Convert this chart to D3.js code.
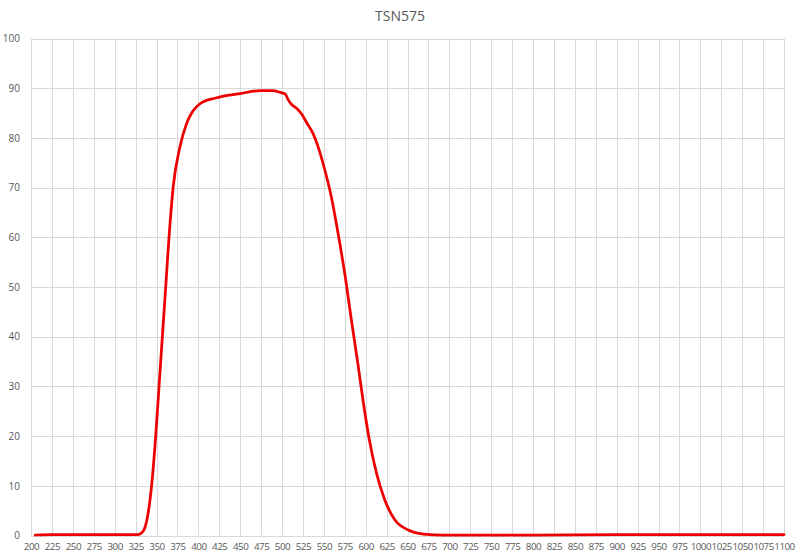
<!DOCTYPE html>
<html>
<head>
<meta charset="utf-8">
<script src="https://cdn.jsdelivr.net/npm/d3@7"></script>
<style>
  body { margin: 0; background: #fff; }
  text { font-family: "Open Sans", "Noto Sans", sans-serif; fill: #595959; }
</style>
</head>
<body>
<div class="chart"></div>
<script>
// wavelength (nm) and transmission (%)
const wavelength = [205, 225, 250, 275, 300, 320, 328, 332, 336, 340, 344, 349, 353, 357, 361, 365, 370, 378, 386, 392, 398, 405, 415, 425, 437, 450, 462, 475, 489, 497, 504, 507, 511, 517, 523, 530, 537, 543, 549, 559, 567, 575, 583, 591, 597, 604, 613, 623, 635, 651, 669, 693, 750, 800, 900, 1000, 1100]
const transmission = [0.1, 0.2, 0.2, 0.2, 0.2, 0.2, 0.2, 0.5, 1.5, 4.5, 9.8, 19.9, 29.9, 40, 50, 60.1, 70.2, 78.2, 82.9, 85.0, 86.3, 87.2, 87.8, 88.2, 88.6, 88.9, 89.3, 89.5, 89.5, 89.2, 88.8, 87.8, 86.8, 86.0, 84.9, 82.9, 80.9, 78.3, 74.9, 68.1, 60.8, 52.7, 43.3, 34.2, 27.0, 19.6, 12.5, 7.1, 3.1, 1.1, 0.3, 0.1, 0.1, 0.1, 0.2, 0.2, 0.2]
const xTicks = d3.range(200, 1101, 25)
const yTicks = d3.range(0, 101, 10)
const title = "TSN575"

const width = 800
const height = 556
const margin = { top: 38.5, right: 16, bottom: 20.5, left: 31 }

const svg = d3.select(".chart")
  .append("svg")
  .attr("width", width)
  .attr("height", height)

const x = d3.scaleLinear()
  .domain([200, 1100])
  .range([margin.left, width - margin.right])

const y = d3.scaleLinear()
  .domain([0, 100])
  .range([height - margin.bottom, margin.top])

// gridlines
svg.append("g")
  .selectAll("line")
  .data(xTicks)
  .enter()
  .append("line")
  .attr("x1", d => Math.round(x(d)) + 0.5)
  .attr("x2", d => Math.round(x(d)) + 0.5)
  .attr("y1", y(100))
  .attr("y2", y(0))
  .style("stroke", "#d9d9d9")

svg.append("g")
  .selectAll("line")
  .data(yTicks)
  .enter()
  .append("line")
  .attr("x1", x(200))
  .attr("x2", x(1100))
  .attr("y1", d => Math.round(y(d)) + 0.5)
  .attr("y2", d => Math.round(y(d)) + 0.5)
  .style("stroke", "#d9d9d9")

// axes (labels only)
const xAxis = svg.append("g")
  .attr("transform", `translate(0,${y(0)})`)
  .call(d3.axisBottom(x).tickValues(xTicks).tickFormat(d3.format("d")).tickSize(0).tickPadding(8))
xAxis.select(".domain").remove()
xAxis.selectAll("text")
  .style("font-size", "9.8px")
  .style("font-family", "'Open Sans', sans-serif")
  .style("letter-spacing", "-0.5px")
  .attr("fill", "#595959")

const yAxis = svg.append("g")
  .attr("transform", `translate(${x(200) - 11},0)`)
  .call(d3.axisLeft(y).tickValues(yTicks).tickSize(0).tickPadding(0))
yAxis.select(".domain").remove()
yAxis.selectAll("text")
  .style("font-size", "10px")
  .attr("fill", "#595959")

// title
svg.append("text")
  .attr("x", width / 2)
  .attr("y", 21)
  .attr("text-anchor", "middle")
  .style("font-size", "14px")
  .text(title)

// curve
const points = wavelength.map((w, i) => [w, transmission[i]])
const line = d3.line()
  .x(d => x(d[0]))
  .y(d => y(d[1]))
  .curve(d3.curveMonotoneX)

svg.append("path")
  .datum(points)
  .attr("d", line)
  .style("fill", "none")
  .style("stroke", "#ee0000")
  .style("stroke-width", 2.75)
  .style("stroke-linejoin", "round")
  .style("stroke-linecap", "round")
</script>
</body>
</html>
